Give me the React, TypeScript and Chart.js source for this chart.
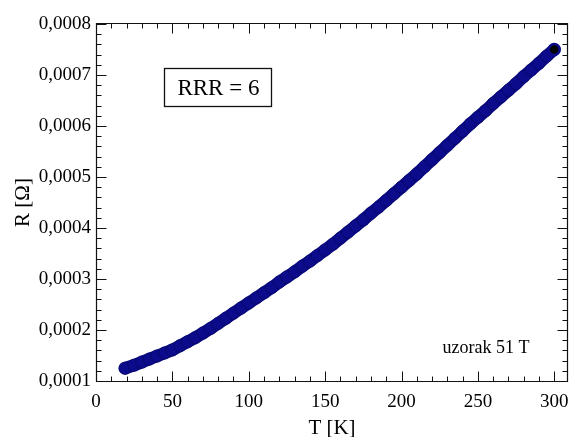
import React, { useEffect, useRef } from 'react';
import { Chart, registerables } from 'chart.js';

Chart.register(...registerables);

const temperatureK = [19, 25, 30, 35, 40, 45, 50, 55, 60, 65, 70, 75, 80, 85, 90, 95, 100, 105, 110, 115, 120, 125, 130, 135, 140, 145, 150, 155, 160, 165, 170, 175, 180, 185, 190, 195, 200, 205, 210, 215, 220, 225, 230, 235, 240, 245, 250, 255, 260, 265, 270, 275, 280, 285, 290, 295, 300];
const resistanceOhm = [0.000125, 0.000131, 0.000137, 0.000143, 0.000149, 0.000155, 0.000161, 0.000169, 0.000177, 0.000185, 0.000194, 0.000203, 0.000213, 0.000223, 0.000233, 0.000243, 0.000253, 0.000263, 0.000273, 0.000283, 0.000294, 0.000304, 0.000314, 0.000325, 0.000335, 0.000346, 0.000357, 0.000368, 0.00038, 0.000392, 0.000404, 0.000416, 0.000429, 0.000441, 0.000454, 0.000467, 0.00048, 0.000493, 0.000506, 0.00052, 0.000534, 0.000548, 0.000562, 0.000576, 0.00059, 0.000604, 0.000617, 0.00063, 0.000644, 0.000657, 0.00067, 0.000683, 0.000697, 0.00071, 0.000723, 0.000737, 0.00075];

const xMin = 0;
const xMax = 309;
const xMajorStep = 50;
const xMinorStep = 10;
const xTickEnd = 300;
const yMin = 0.0001;
const yMax = 0.0008;
const yMajorStep = 0.0001;
const yMinorPerMajor = 5;

const xTitle = 'T [K]';
const yTitle = 'R [Ω]';
const rrrLabel = 'RRR = 6';
const sampleLabel = 'uzorak 51 T';

const FONT = "'Liberation Serif', 'Times New Roman', serif";
const NAVY = '#0b0b8b';

const framePlugin = {
  id: 'frameTicks',
  afterDraw(chart: any) {
    const { ctx, chartArea: a, scales } = chart;
    const x = scales.x;
    const y = scales.y;
    ctx.save();
    ctx.strokeStyle = '#111';
    ctx.lineWidth = 1.2;
    const L = Math.round(a.left) + 0.5;
    const R = Math.round(a.right) - 0.5;
    const T = Math.round(a.top) - 0.5;
    const B = Math.round(a.bottom) + 0.5;
    ctx.beginPath();
    ctx.rect(L, T, R - L, B - T);
    ctx.stroke();
    ctx.lineWidth = 1;
    ctx.beginPath();
    const nX = Math.round((xTickEnd - xMin) / xMinorStep);
    for (let i = 0; i <= nX; i++) {
      const v = xMin + i * xMinorStep;
      const major = v % xMajorStep === 0;
      const len = major ? 10 : 5;
      const px = Math.round(x.getPixelForValue(v)) + 0.5;
      ctx.moveTo(px, B);
      ctx.lineTo(px, B - len);
      ctx.moveTo(px, T);
      ctx.lineTo(px, T + len);
    }
    const nY = Math.round((yMax - yMin) / yMajorStep) * yMinorPerMajor;
    for (let i = 0; i <= nY; i++) {
      const v = yMin + (i * yMajorStep) / yMinorPerMajor;
      const major = i % yMinorPerMajor === 0;
      const len = major ? 10 : 5;
      const py = Math.round(y.getPixelForValue(v)) + 0.5;
      ctx.moveTo(L, py);
      ctx.lineTo(L + len, py);
      ctx.moveTo(R, py);
      ctx.lineTo(R - len, py);
    }
    ctx.stroke();

    // RRR box
    const bx1 = x.getPixelForValue(44.6);
    const bx2 = x.getPixelForValue(114.4);
    const by1 = y.getPixelForValue(0.000714);
    const by2 = y.getPixelForValue(0.000639);
    ctx.fillStyle = '#fff';
    ctx.fillRect(bx1, by1, bx2 - bx1, by2 - by1);
    ctx.lineWidth = 1.3;
    ctx.strokeStyle = '#111';
    ctx.strokeRect(Math.round(bx1) + 0.5, Math.round(by1) + 0.5, Math.round(bx2 - bx1), Math.round(by2 - by1));
    ctx.fillStyle = '#000';
    ctx.font = `23px ${FONT}`;
    ctx.textAlign = 'center';
    ctx.textBaseline = 'alphabetic';
    ctx.fillText(rrrLabel, (bx1 + bx2) / 2 + 1, (by1 + by2) / 2 + 8);

    ctx.font = `18px ${FONT}`;
    ctx.textAlign = 'left';
    ctx.fillText(sampleLabel, x.getPixelForValue(226.9), y.getPixelForValue(0.000155));
    ctx.restore();
  },
};

export default function App() {
  const ref = useRef<HTMLCanvasElement | null>(null);
  useEffect(() => {
    document.body.style.margin = '0';
    const canvas = ref.current;
    if (!canvas) return;
    const data = temperatureK.map((t, i) => ({ x: t, y: resistanceOhm[i] }));
    const last = data.length - 1;
    const chart = new Chart(canvas, {
      type: 'scatter',
      data: {
        datasets: [
          {
            data,
            showLine: true,
            borderColor: NAVY,
            borderWidth: 12.5,
            borderCapStyle: 'round',
            borderJoinStyle: 'round',
            pointRadius: (c: any) => (c.dataIndex === last ? 5.5 : 6.2),
            pointBackgroundColor: (c: any) => (c.dataIndex === last ? '#000' : NAVY),
            pointBorderColor: (c: any) => (c.dataIndex === last ? NAVY : '#06065a'),
            pointBorderWidth: (c: any) => (c.dataIndex === last ? 2.5 : 0.6),
            tension: 0,
          } as any,
        ],
      },
      options: {
        responsive: false,
        devicePixelRatio: 1,
        animation: false,
        layout: { padding: { top: 24, right: 2, left: 0, bottom: 0 } },
        plugins: { legend: { display: false }, tooltip: { enabled: false } },
        scales: {
          x: {
            type: 'linear',
            min: xMin,
            max: xMax,
            grid: { display: false, drawTicks: false },
            border: { display: false },
            ticks: {
              stepSize: xMajorStep,
              includeBounds: false,
              padding: 10,
              color: '#000',
              font: { family: FONT, size: 19 },
              maxRotation: 0,
              callback: (v: any) => String(v),
            },
            title: {
              display: true,
              text: xTitle,
              color: '#000',
              font: { family: FONT, size: 21 },
              padding: { top: 0, bottom: -4 },
            },
            afterFit: (s: any) => {
              s.height = 56;
              s.paddingLeft = 0;
              s.paddingRight = 0;
            },
          },
          y: {
            type: 'linear',
            min: yMin,
            max: yMax,
            grid: { display: false, drawTicks: false },
            border: { display: false },
            ticks: {
              stepSize: yMajorStep,
              padding: 5,
              color: '#000',
              font: { family: FONT, size: 19 },
              callback: (v: any) => Number(v).toFixed(4).replace('.', ','),
            },
            title: {
              display: true,
              text: yTitle,
              color: '#000',
              font: { family: FONT, size: 21 },
              padding: { top: 11, bottom: 0 },
            },
            afterFit: (s: any) => {
              s.width = 96;
              s.paddingTop = 0;
              s.paddingBottom = 0;
            },
          },
        },
      } as any,
      plugins: [framePlugin],
    });
    return () => chart.destroy();
  }, []);
  return <canvas ref={ref} width={576} height={437} style={{ display: 'block' }} />;
}
